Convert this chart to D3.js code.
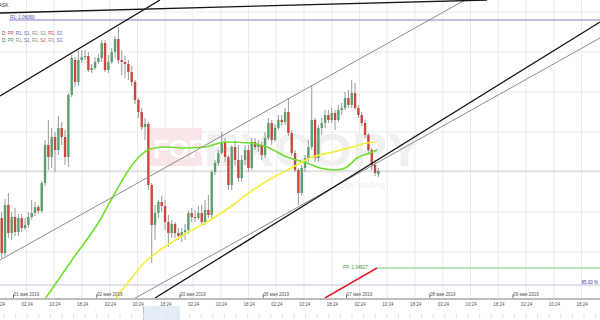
<!DOCTYPE html>
<html>
<head>
<meta charset="utf-8">
<script src="https://cdn.jsdelivr.net/npm/d3@7"></script>
<style>
  body { margin: 0; background: #fff; }
  svg { display: block; font-family: "Liberation Sans", Arial, sans-serif; }
</style>
</head>
<body>
<svg id="chart" width="600" height="320"></svg>
<script>
// hourly bars, [open, high, low, close]
const ohlc = [
  [1.05070, 1.05100, 1.04870, 1.04895],
  [1.04895, 1.05165, 1.04880, 1.05135],
  [1.05135, 1.05195, 1.04970, 1.04995],
  [1.04995, 1.05100, 1.04960, 1.05075],
  [1.05075, 1.05120, 1.04980, 1.05000],
  [1.05000, 1.05090, 1.04980, 1.05070],
  [1.05070, 1.05090, 1.05000, 1.05020],
  [1.05020, 1.05070, 1.05010, 1.05035],
  [1.05035, 1.05100, 1.05020, 1.05075],
  [1.05075, 1.05160, 1.05060, 1.05095],
  [1.05095, 1.05150, 1.05080, 1.05125],
  [1.05125, 1.05135, 1.05090, 1.05105],
  [1.05105, 1.05255, 1.05095, 1.05245],
  [1.05245, 1.05460, 1.05230, 1.05435],
  [1.05435, 1.05560, 1.05310, 1.05375],
  [1.05375, 1.05520, 1.05320, 1.05475],
  [1.05475, 1.05500, 1.05300, 1.05410],
  [1.05410, 1.05580, 1.05385, 1.05520],
  [1.05520, 1.05550, 1.05435, 1.05475],
  [1.05475, 1.05510, 1.05335, 1.05375],
  [1.05375, 1.05695, 1.05325, 1.05685],
  [1.05685, 1.05885, 1.05675, 1.05870],
  [1.05860, 1.05875, 1.05725, 1.05750],
  [1.05750, 1.05910, 1.05730, 1.05860],
  [1.05860, 1.05910, 1.05845, 1.05875],
  [1.05875, 1.05910, 1.05860, 1.05880],
  [1.05880, 1.05900, 1.05800, 1.05810],
  [1.05810, 1.05840, 1.05795, 1.05820],
  [1.05820, 1.05875, 1.05810, 1.05850],
  [1.05850, 1.05890, 1.05840, 1.05870],
  [1.05870, 1.05960, 1.05850, 1.05945],
  [1.05945, 1.05960, 1.05800, 1.05810],
  [1.05810, 1.05885, 1.05795, 1.05850],
  [1.05850, 1.05920, 1.05840, 1.05900],
  [1.05900, 1.05980, 1.05870, 1.05965],
  [1.05965, 1.06025, 1.05840, 1.05860],
  [1.05860, 1.05910, 1.05785, 1.05850],
  [1.05850, 1.05880, 1.05770, 1.05840],
  [1.05840, 1.05860, 1.05760, 1.05800],
  [1.05800, 1.05830, 1.05730, 1.05750],
  [1.05750, 1.05760, 1.05640, 1.05660],
  [1.05660, 1.05670, 1.05570, 1.05600],
  [1.05600, 1.05620, 1.05510, 1.05525],
  [1.05525, 1.05570, 1.05460, 1.05540],
  [1.05540, 1.05550, 1.05210, 1.05235],
  [1.05235, 1.05245, 1.04845, 1.05035],
  [1.05035, 1.05135, 1.04960, 1.05095],
  [1.05095, 1.05160, 1.05070, 1.05150],
  [1.05150, 1.05180, 1.05100, 1.05130],
  [1.05130, 1.05160, 1.05010, 1.05050],
  [1.05050, 1.05085, 1.04925, 1.04995],
  [1.04995, 1.05060, 1.04970, 1.05040],
  [1.05040, 1.05050, 1.04970, 1.04995],
  [1.04995, 1.05020, 1.04960, 1.04980],
  [1.04980, 1.05020, 1.04950, 1.05000],
  [1.05000, 1.05040, 1.04960, 1.05010],
  [1.05010, 1.05110, 1.04990, 1.05095],
  [1.05095, 1.05120, 1.05050, 1.05075],
  [1.05075, 1.05110, 1.05050, 1.05070],
  [1.05070, 1.05130, 1.05060, 1.05095],
  [1.05095, 1.05135, 1.05030, 1.05050],
  [1.05050, 1.05160, 1.05035, 1.05110],
  [1.05110, 1.05185, 1.05070, 1.05085],
  [1.05085, 1.05310, 1.05070, 1.05300],
  [1.05300, 1.05360, 1.05285, 1.05345],
  [1.05345, 1.05410, 1.05330, 1.05395],
  [1.05395, 1.05500, 1.05385, 1.05450],
  [1.05450, 1.05470, 1.05350, 1.05375],
  [1.05375, 1.05385, 1.05210, 1.05235],
  [1.05235, 1.05435, 1.05210, 1.05425],
  [1.05425, 1.05460, 1.05335, 1.05360],
  [1.05360, 1.05435, 1.05250, 1.05270],
  [1.05270, 1.05385, 1.05250, 1.05360],
  [1.05360, 1.05435, 1.05335, 1.05410],
  [1.05410, 1.05435, 1.05300, 1.05320],
  [1.05320, 1.05470, 1.05310, 1.05450],
  [1.05450, 1.05470, 1.05410, 1.05425],
  [1.05425, 1.05460, 1.05400, 1.05435],
  [1.05435, 1.05450, 1.05360, 1.05385],
  [1.05385, 1.05500, 1.05370, 1.05470],
  [1.05470, 1.05570, 1.05460, 1.05545],
  [1.05545, 1.05560, 1.05435, 1.05460],
  [1.05460, 1.05540, 1.05450, 1.05520],
  [1.05520, 1.05585, 1.05510, 1.05560],
  [1.05560, 1.05585, 1.05530, 1.05550],
  [1.05550, 1.05620, 1.05535, 1.05600],
  [1.05600, 1.05670, 1.05480, 1.05495],
  [1.05495, 1.05510, 1.05380, 1.05395],
  [1.05395, 1.05410, 1.05300, 1.05310],
  [1.05310, 1.05320, 1.05135, 1.05195],
  [1.05195, 1.05335, 1.05180, 1.05320],
  [1.05320, 1.05385, 1.05300, 1.05370],
  [1.05370, 1.05460, 1.05350, 1.05425],
  [1.05425, 1.05735, 1.05410, 1.05560],
  [1.05560, 1.05570, 1.05350, 1.05370],
  [1.05370, 1.05535, 1.05350, 1.05520],
  [1.05520, 1.05570, 1.05485, 1.05545],
  [1.05545, 1.05610, 1.05520, 1.05585],
  [1.05585, 1.05610, 1.05545, 1.05560],
  [1.05560, 1.05620, 1.05545, 1.05595],
  [1.05595, 1.05610, 1.05510, 1.05560],
  [1.05560, 1.05635, 1.05550, 1.05610],
  [1.05610, 1.05645, 1.05585, 1.05620],
  [1.05620, 1.05700, 1.05610, 1.05670],
  [1.05670, 1.05710, 1.05620, 1.05635],
  [1.05635, 1.05760, 1.05620, 1.05695],
  [1.05695, 1.05745, 1.05610, 1.05620],
  [1.05620, 1.05635, 1.05570, 1.05585],
  [1.05585, 1.05600, 1.05530, 1.05545],
  [1.05545, 1.05560, 1.05470, 1.05485],
  [1.05485, 1.05495, 1.05395, 1.05410],
  [1.05410, 1.05420, 1.05310, 1.05335],
  [1.05335, 1.05360, 1.05280, 1.05295],
  [1.05290, 1.05320, 1.05275, 1.05305]
];

// moving averages: [bar index, price]
const maGreen = [
  [12.99, 1.04665], [21.09, 1.0486], [29.49, 1.0506], [33.99, 1.05195], [38.49, 1.0532],
  [41.49, 1.0538], [44.49, 1.05415], [48.99, 1.05425], [54.99, 1.0542], [60.99, 1.05425],
  [66.99, 1.0545], [74.48, 1.05445], [79.58, 1.05425], [85.58, 1.05375], [91.58, 1.05345],
  [95.48, 1.0532], [100.58, 1.0531], [103.58, 1.05325], [106.58, 1.0537], [110.48, 1.05395],
  [112.58, 1.0541]
];
const maYellow = [
  [33.99, 1.04665], [38.49, 1.0476], [42.99, 1.0485], [47.49, 1.0491], [55.59, 1.04995],
  [63.09, 1.05065], [69.39, 1.05135], [74.48, 1.0520], [79.58, 1.05255], [87.38, 1.05325],
  [92.48, 1.0537], [99.38, 1.0540], [105.38, 1.05425], [109.58, 1.05445], [112.58, 1.0545]
];

// trend lines: [bar1, price1, bar2, price2]
const trendBlack = [
  [-0.51, 1.0568, 47.49, 1.0616],
  [-0.51, 1.06095, 145.58, 1.0616],
  [45.99, 1.0467, 179.48, 1.0605]
];
const trendGray = [
  [-0.51, 1.0486, 138.98, 1.0616],
  [39.39, 1.04663, 179.48, 1.0597]
];
const trendRed = [[96.98, 1.0467, 112.58, 1.0482]];

const gridPrices = [1.049, 1.051, 1.053, 1.055, 1.057, 1.059, 1.061];
const levelR1 = 1.0606, levelPP = 1.0482, levelFib = 1.04735;

const hourLabels = ["18:24", "02:24", "10:24", "18:24", "02:24", "10:24", "18:24", "02:24",
  "10:24", "18:24", "02:24", "10:24", "18:24", "02:24", "10:24", "18:24", "02:24", "10:24",
  "18:24", "02:24", "10:24", "18:24"];
const dateLabels = ["01 мая 2019", "02 мая 2019", "03 мая 2019", "06 мая 2019",
  "07 мая 2019", "08 мая 2019", "09 мая 2019"];
const pivotNames = ["PP", "R1", "S1", "R2", "S2", "R3", "S3"];

// ---- layout ----
const width = 600, height = 320, plotBottom = 298;
const svg = d3.select("#chart");

const x = d3.scaleLinear().domain([0, ohlc.length - 1]).range([1.7, 378.4]);
const y = d3.scaleLinear().domain([1.0456, 1.0616]).range([320, 0]);
const xt = d3.scaleLinear().domain([-1, 20]).range([-1.25, 581.5]);

svg.append("rect").attr("width", width).attr("height", height).attr("fill", "#fff");
svg.append("defs").append("clipPath").attr("id", "plot")
  .append("rect").attr("width", width).attr("height", plotBottom);

// grid
const grid = svg.append("g");
grid.selectAll(".vg").data(hourLabels).join("line")
  .attr("x1", (d, i) => xt(i - 1)).attr("x2", (d, i) => xt(i - 1))
  .attr("y1", 0).attr("y2", plotBottom)
  .attr("stroke", "#ebebeb").attr("stroke-width", 1);
grid.selectAll(".hg").data(gridPrices).join("line")
  .attr("x1", 0).attr("x2", width)
  .attr("y1", d => y(d)).attr("y2", d => y(d))
  .attr("stroke", "#ebebeb").attr("stroke-width", 1);

// watermark
const wm = svg.append("g");
wm.append("rect").attr("x", 150).attr("y", 128).attr("width", 52).attr("height", 38).attr("fill", "#f9e6e6");
wm.append("text").attr("x", 153).attr("y", 158).attr("font-size", 26).attr("font-weight", 700)
  .attr("fill", "#fff").text("FOR");
wm.append("text").attr("x", 204).attr("y", 166).attr("font-size", 46).attr("font-weight", 700)
  .attr("fill", "#f0f0f0").attr("textLength", 218).attr("lengthAdjust", "spacingAndGlyphs").text("EXCOPY");
wm.append("text").attr("x", 336).attr("y", 188).attr("font-size", 9)
  .attr("fill", "#f0f0f0").text("copy trading");

// current price line
svg.append("line").attr("x1", 0).attr("x2", width)
  .attr("y1", y(ohlc[ohlc.length - 1][3])).attr("y2", y(ohlc[ohlc.length - 1][3]))
  .attr("stroke", "#cfcfcf").attr("stroke-width", 1);

// R1 level
svg.append("line").attr("x1", 9).attr("x2", width).attr("y1", y(levelR1)).attr("y2", y(levelR1))
  .attr("stroke", "#a9a9e2").attr("stroke-width", 1.5);
svg.append("text").attr("x", 10).attr("y", y(levelR1) - 0.8).attr("font-size", 4.5)
  .attr("fill", "#4b4ba8").text("R1: " + levelR1.toFixed(5));

// 85% level / pane separator
svg.append("line").attr("x1", 0).attr("x2", width).attr("y1", y(levelFib)).attr("y2", y(levelFib))
  .attr("stroke", "#c2c2dc").attr("stroke-width", 1);
svg.append("text").attr("x", 598).attr("y", y(levelFib) - 0.8).attr("font-size", 4.5)
  .attr("text-anchor", "end").attr("fill", "#3b3ba0").text("85.00 %");

// candles
const plot = svg.append("g").attr("clip-path", "url(#plot)");
const bars = plot.append("g").selectAll("g").data(ohlc).join("g");
bars.append("line")
  .attr("x1", (d, i) => x(i)).attr("x2", (d, i) => x(i))
  .attr("y1", d => y(d[1])).attr("y2", d => y(d[2]))
  .attr("stroke", "#9a9a9a").attr("stroke-width", 1);
bars.append("rect")
  .attr("x", (d, i) => x(i) - 1.2).attr("width", 2.4)
  .attr("y", d => y(Math.max(d[0], d[3])))
  .attr("height", d => Math.max(1, Math.abs(y(d[0]) - y(d[3]))))
  .attr("fill", d => d[3] >= d[0] ? "#5a9f70" : "#c9473d");

// moving averages
const maLine = d3.line().x(d => x(d[0])).y(d => y(d[1])).curve(d3.curveMonotoneX);
plot.append("path").attr("d", maLine(maGreen)).attr("fill", "none")
  .attr("stroke", "#6ee02c").attr("stroke-width", 1.6);
plot.append("path").attr("d", maLine(maYellow)).attr("fill", "none")
  .attr("stroke", "#f4f03a").attr("stroke-width", 1.6);

// trend lines
const drawTrend = (data, color, w) => plot.append("g").selectAll("line").data(data).join("line")
  .attr("x1", d => x(d[0])).attr("y1", d => y(d[1]))
  .attr("x2", d => x(d[2])).attr("y2", d => y(d[3]))
  .attr("stroke", color).attr("stroke-width", w);
drawTrend(trendGray, "#8c8c8c", 1);
drawTrend(trendBlack, "#151515", 1.3);
drawTrend(trendRed, "#e21d2b", 1.5);

// PP level
svg.append("line").attr("x1", x(trendRed[0][2])).attr("x2", width)
  .attr("y1", y(levelPP)).attr("y2", y(levelPP))
  .attr("stroke", "#7dcc7d").attr("stroke-width", 1);
svg.append("text").attr("x", 343).attr("y", y(levelPP) + 0.5).attr("font-size", 4.5)
  .attr("fill", "#3b9a3b").text("PP: 1.04827");

// legend rows
svg.append("text").attr("x", -1.5).attr("y", 7).attr("font-size", 5).attr("fill", "#333").text("ASK");
const rowColors = [
  ["#cc4a4a", "#5a5ab5", "#5a5ab5", "#8a8a8a", "#8a8a8a", "#cc4a4a", "#7a5ab8"],
  ["#3d9b3d", "#8a8a8a", "#5a5ab5", "#8a8a8a", "#cc4a4a", "#8a8a8a", "#7a5ab8"]
];
rowColors.forEach((cols, r) => {
  const t = svg.append("text").attr("x", 2).attr("y", 35 + r * 7).attr("font-size", 4.5);
  t.append("tspan").attr("fill", "#555").text("D: ");
  pivotNames.forEach((n, i) => {
    t.append("tspan").attr("fill", cols[i]).text(n);
    if (i < pivotNames.length - 1) t.append("tspan").attr("fill", "#555").text(", ");
  });
});

// time axis
svg.append("line").attr("x1", 0).attr("x2", width).attr("y1", 299).attr("y2", 299)
  .attr("stroke", "#bdbdbd").attr("stroke-width", 2.2);
const axis = d3.axisBottom(xt).tickValues(d3.range(-1, 21))
  .tickFormat((d, i) => hourLabels[i]).tickSize(0).tickPadding(2.5);
const ax = svg.append("g").attr("transform", "translate(0,300)").call(axis);
ax.select(".domain").remove();
ax.selectAll("text").attr("font-size", 4.5).attr("fill", "#555")
  .attr("font-family", "Liberation Sans, Arial, sans-serif");

const dl = svg.append("g").selectAll("g").data(dateLabels).join("g")
  .attr("transform", (d, i) => `translate(${xt(i * 3)},296)`);
dl.append("text").attr("text-anchor", "middle").attr("font-size", 4.5).attr("fill", "#555").text(d => d);
dl.append("line").attr("x1", -13).attr("x2", -13).attr("y1", -2).attr("y2", 2)
  .attr("stroke", "#777").attr("stroke-width", 1);

// navigator strip
const nav = svg.append("g");
nav.append("rect").attr("x", 143).attr("y", 306).attr("width", 37).attr("height", 14).attr("fill", "#e5edf7");
nav.append("line").attr("x1", 143.5).attr("x2", 143.5).attr("y1", 306).attr("y2", 320)
  .attr("stroke", "#b6c6dc").attr("stroke-width", 1);
nav.selectAll(".nt").data(d3.range(0, 52)).join("line")
  .attr("x1", d => 4 + d * 11.6).attr("x2", d => 4 + d * 11.6)
  .attr("y1", 314).attr("y2", 319)
  .attr("stroke", "#e4e4e4").attr("stroke-width", 1);
</script>
</body>
</html>
